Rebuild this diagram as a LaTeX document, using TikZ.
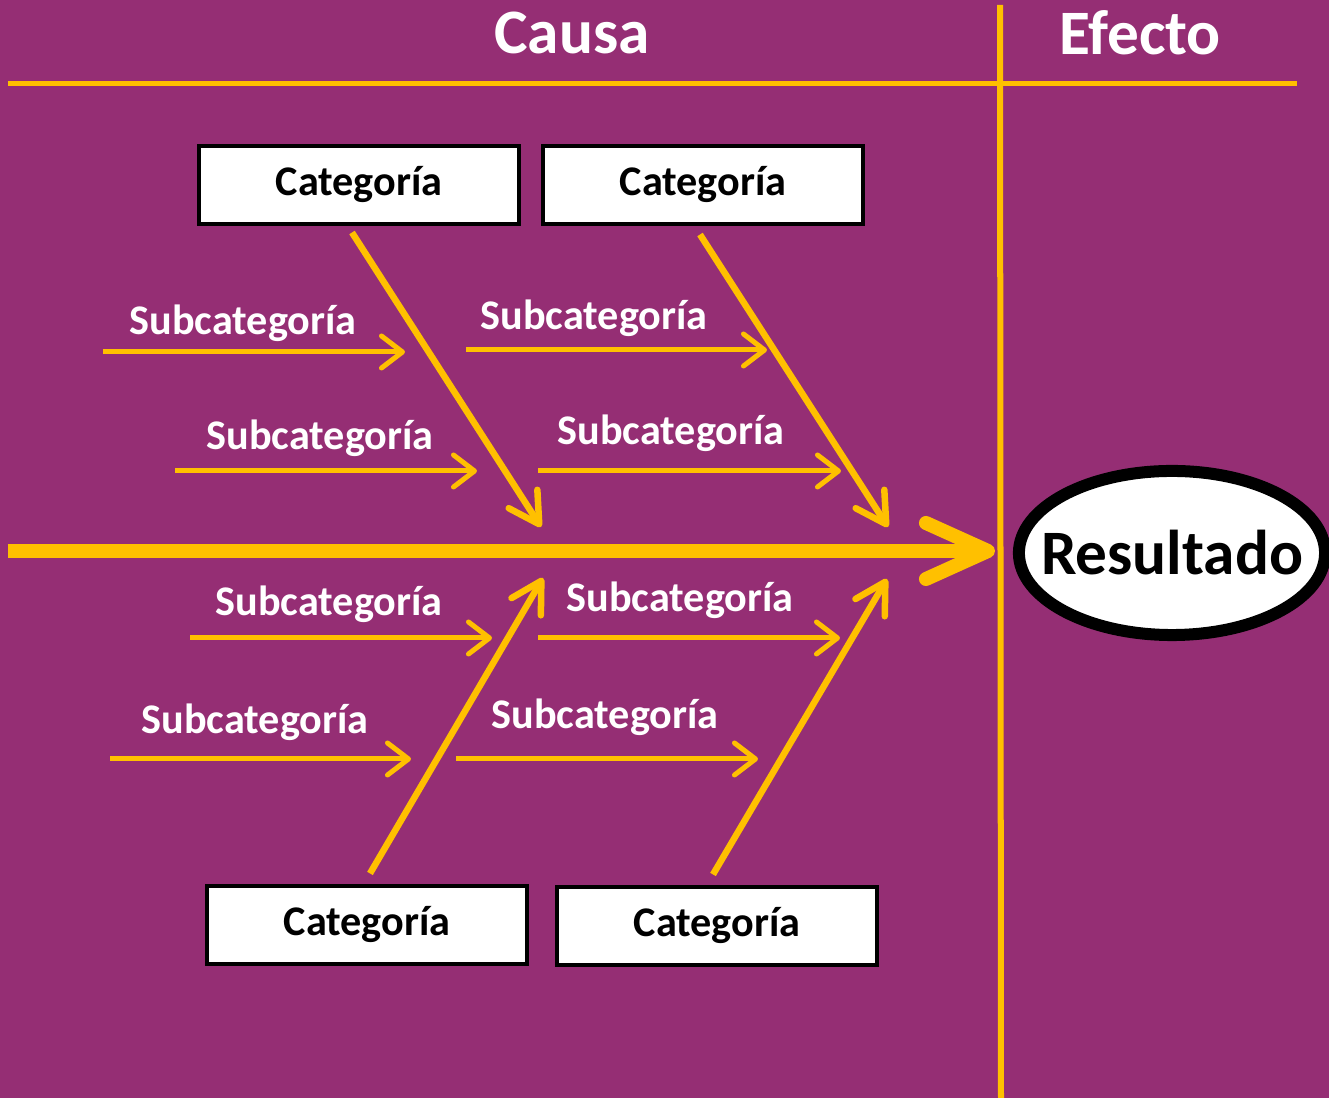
\documentclass[tikz,border=0pt]{standalone}
\usepackage{fontspec}
\setmainfont{Carlito}
\usetikzlibrary{arrows.meta,shapes.geometric}
\definecolor{fondo}{RGB}{149,46,116}
\definecolor{amarillo}{RGB}{255,192,0}
\begin{document}
\begin{tikzpicture}[x=0.01cm, y=-0.01cm,
		titulo/.style={text=white, font=\fontsize{18}{21}\selectfont\bfseries},
		cat/.style={draw=black, line width=0.04cm, fill=white, minimum width=3.2cm, minimum height=0.77cm, inner sep=0pt, font=\fontsize{12}{14}\selectfont\bfseries},
		subtxt/.style={text=white, inner sep=0pt, font=\fontsize{12}{14}\selectfont\bfseries},
		sub/.style={amarillo, line width=0.05cm, -{Straight Barb[length=0.21cm, width=0.32cm, round]}},
		bone/.style={amarillo, line width=0.065cm, -{Straight Barb[length=0.3cm, width=0.34cm, round]}},
		guia/.style={amarillo, line width=0.05cm}]
			\useasboundingbox (0,0) rectangle (1329,1098);
			\fill[fondo] (0,0) rectangle (1329,1098);
			% encabezado
			\node[titulo] (causa) at (572,33) {Causa};
			\node[titulo] (efecto) at (1140,33) {Efecto};
			\coordinate (h1) at (8,84); \coordinate (h2) at (1297,84);
			\coordinate (v1) at (1000,5); \coordinate (v2) at (1001,1098);
			\draw[guia] (h1) -- (h2);
			\draw[guia, line width=0.06cm] (v1) -- (v2);
			% efecto
			\node[ellipse, draw=black, line width=0.12cm, fill=white, minimum width=3.06cm, minimum height=1.64cm, inner xsep=-0.25cm, inner ysep=0pt, font=\fontsize{18}{21}\selectfont\bfseries] (res) at (1172,553) {Resultado};
			% espina central
			\coordinate (cola) at (8,551); \coordinate (cabeza) at (995,551);
			\draw[amarillo, line width=0.14cm, -{Straight Barb[length=0.62cm, width=0.56cm, round]}] (cola) -- (cabeza);
			% categorias
			\node[cat] (catA) at (359,185) {Categoría};
			\node[cat] (catB) at (703,185) {Categoría};
			\node[cat] (catC) at (367,925) {Categoría};
			\node[cat] (catD) at (717,926) {Categoría};
			\coordinate (pA) at (541,527); \coordinate (pB) at (888,527);
			\coordinate (pC) at (543,578); \coordinate (pD) at (887,579);
			\draw[bone] ([xshift=-0.07cm, yshift=-0.07cm]catA.south) -- (pA);
			\draw[bone] ([xshift=-0.03cm, yshift=-0.09cm]catB.south) -- (pB);
			\draw[bone] ([xshift=0.03cm, yshift=0.11cm]catC.north) -- (pC);
			\draw[bone] ([xshift=-0.04cm, yshift=0.11cm]catD.north) -- (pD);
			% subcategorias arriba
			\node[subtxt] (t1) at (243,323) {Subcategoría};
			\node[subtxt] (t2) at (320,438) {Subcategoría};
			\node[subtxt] (t3) at (594,318) {Subcategoría};
			\node[subtxt] (t4) at (671,433) {Subcategoría};
			\coordinate (a1) at (103,352); \coordinate (b1) at (405,352);
			\coordinate (a2) at (175,471); \coordinate (b2) at (477,471);
			\coordinate (a3) at (466,350); \coordinate (b3) at (767,350);
			\coordinate (a4) at (538,471); \coordinate (b4) at (841,471);
			\draw[sub] (a1) -- (b1);
			\draw[sub] (a2) -- (b2);
			\draw[sub] (a3) -- (b3);
			\draw[sub] (a4) -- (b4);
			% subcategorias abajo
			\node[subtxt] (t5) at (329,604) {Subcategoría};
			\node[subtxt] (t6) at (255,722) {Subcategoría};
			\node[subtxt] (t7) at (680,600) {Subcategoría};
			\node[subtxt] (t8) at (605,717) {Subcategoría};
			\coordinate (a5) at (190,638); \coordinate (b5) at (492,638);
			\coordinate (a6) at (110,759); \coordinate (b6) at (411,759);
			\coordinate (a7) at (538,638); \coordinate (b7) at (840,638);
			\coordinate (a8) at (456,759); \coordinate (b8) at (758,759);
			\draw[sub] (a5) -- (b5);
			\draw[sub] (a6) -- (b6);
			\draw[sub] (a7) -- (b7);
			\draw[sub] (a8) -- (b8);
\end{tikzpicture}
\end{document}
